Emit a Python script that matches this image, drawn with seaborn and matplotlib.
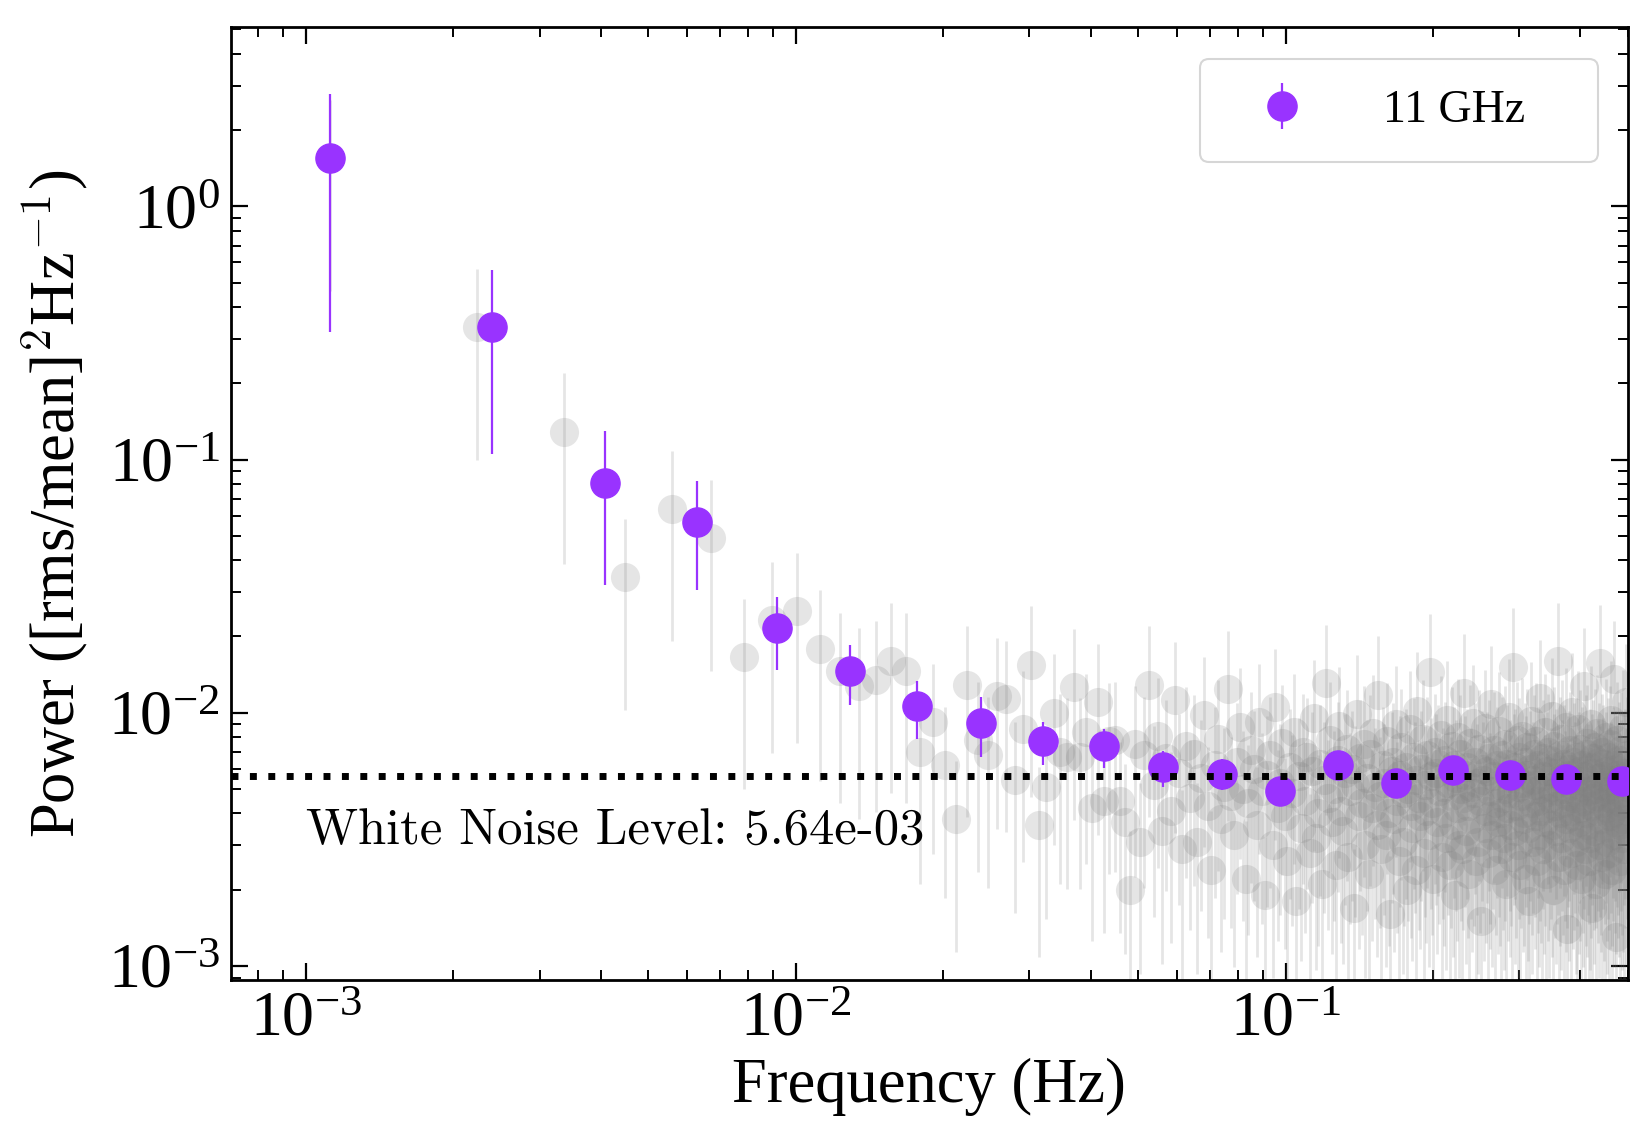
import numpy as np
import pandas as pd
import matplotlib
matplotlib.use('Agg')
import matplotlib.pyplot as plt
import seaborn as sns

sns.set_style('ticks')
plt.rcParams['font.family'] = ['Liberation Serif', 'DejaVu Serif']
plt.rcParams['mathtext.fontset'] = 'cm'
plt.rcParams['xtick.direction'] = 'in'
plt.rcParams['ytick.direction'] = 'in'
plt.rcParams['xtick.top'] = True
plt.rcParams['ytick.right'] = True
for key in ['text.color', 'axes.labelcolor', 'xtick.color', 'ytick.color', 'axes.edgecolor']:
    plt.rcParams[key] = 'black'

# binned power spectrum, 11 GHz
bin_freq = [1.12e-3, 2.40e-3, 4.08e-3, 6.28e-3, 9.14e-3, 1.29e-2, 1.77e-2, 2.39e-2,
            3.20e-2, 4.25e-2, 5.63e-2, 7.43e-2, 9.76e-2, 0.128, 0.168, 0.220,
            0.287, 0.373, 0.487]
bin_power = [1.55, 0.333, 0.081, 0.0564, 0.0217, 0.01466, 0.0106, 0.0091,
             0.00773, 0.00736, 0.00608, 0.00574, 0.00489, 0.00621, 0.00527,
             0.00592, 0.00569, 0.00548, 0.00537]
bin_err = [1.23, 0.228, 0.049, 0.026, 0.007, 0.0039, 0.0027, 0.0024,
           0.0015, 0.0013, 0.0010, 0.0008, 0.0006, 0.0005, 0.0005,
           0.0004, 0.0004, 0.0003, 0.0003]

# unbinned periodogram (grey), power in units of 1e-3, linear grid of step grey_df
grey_df = 1.12e-3
grey_rel_err = 0.7
grey_power_e3 = [
    1550, 333, 129, 34.3, 63.8, 48.9, 16.6, 23.2, 25.2, 17.9,
    14.6, 12.7, 13.5, 16.0, 14.6, 7.0, 9.2, 6.2, 3.8, 12.9,
    7.8, 6.8, 11.6, 11.3, 5.4, 8.6, 15.5, 3.6, 5.1, 10.0,
    7.0, 6.7, 12.6, 6.7, 8.4, 4.2, 11.0, 4.5, 7.7, 7.8,
    4.5, 3.7, 2.0, 7.5, 3.1, 6.8, 12.9,
    5.2, 8.1, 3.4, 6.6, 4.1, 11.2, 5.8, 2.9, 7.4, 4.6, 6.9, 3.1, 5.5, 9.8, 4.3, 2.4, 6.2, 7.9, 3.8, 5.1,
    12.4, 4.7, 3.3, 6.4, 8.8, 5.0, 2.2, 4.4, 7.1, 6.0, 3.6, 9.2, 4.9, 1.9, 5.7, 6.8, 3.0, 10.5, 4.2, 5.3,
    7.6, 3.9, 2.6, 6.1, 4.8, 8.4, 1.8, 5.6, 3.5, 7.0, 4.5, 6.7, 2.8, 5.9, 9.5, 3.2, 4.0, 6.3, 2.1, 5.4,
    13.1, 4.6, 7.8, 3.7, 5.0, 2.5, 6.5, 8.9, 4.1, 3.4, 5.8, 7.2, 2.7, 4.9, 6.0, 1.7, 5.2, 9.9, 3.9, 6.6,
    4.4, 7.5, 3.0, 5.5, 2.3, 6.9, 4.2, 8.3, 5.1, 3.6, 11.8, 4.7, 2.9, 6.2, 5.3, 3.3, 7.7, 4.0, 1.6, 5.9,
    6.4, 3.8, 9.0, 4.5, 2.6, 5.7, 7.3, 3.1, 4.8, 6.1, 2.0, 5.0, 8.6, 4.3, 3.5, 6.7, 5.4, 2.4, 10.2, 4.6,
    3.9, 6.0, 7.9, 2.8, 5.2, 4.1, 6.8, 3.3, 14.5, 5.6, 4.4, 2.2, 7.0, 5.8, 3.7, 6.3, 4.9, 8.2, 2.7, 5.1,
    4.0, 6.5, 3.2, 9.4, 5.3, 2.5, 4.7, 7.4, 3.6, 6.2, 1.9, 5.5, 4.2, 8.0, 3.0, 6.9, 5.0, 2.9, 4.6, 12.0,
    5.7, 3.4, 6.1, 4.3, 2.3, 7.6, 5.1, 3.8, 9.1, 4.8, 6.4, 2.6, 5.3, 3.1, 7.2, 4.5, 1.5, 6.0, 5.4, 3.5,
    8.7, 4.1, 5.9, 2.8, 6.6, 3.9, 4.9, 10.8, 3.3, 5.6, 7.1, 2.4, 4.4, 6.2, 3.7, 5.2, 8.5, 4.0, 2.9, 6.8,
    4.6, 3.2, 7.5, 5.0, 2.1, 6.3, 4.2, 9.6, 3.6, 5.5, 4.8, 2.7, 15.2, 5.8, 3.4, 6.1, 4.3, 7.8, 3.0, 5.1,
    6.7, 2.5, 4.7, 5.3, 8.1, 3.8, 4.0, 6.4, 2.2, 5.7, 7.3, 3.5, 4.9, 1.8, 6.0, 9.3, 4.4, 3.1, 5.4, 6.9,
    3.9, 5.2, 7.7, 2.6, 4.5, 6.2, 3.3, 11.4, 5.0, 4.1, 2.9, 6.6, 5.6, 3.7, 8.4, 4.8, 2.3, 5.9, 7.0, 4.2,
    3.0, 6.5, 4.6, 5.1, 9.7, 3.6, 2.0, 5.8, 7.4, 4.3, 6.1, 3.4, 4.9, 16.0, 5.3, 2.7, 6.8, 4.0, 3.2, 5.5,
    7.9, 4.4, 2.4, 6.3, 5.0, 3.8, 8.8, 4.7, 1.4, 5.7, 6.0, 3.5, 7.1, 4.1, 2.8, 5.2, 10.1, 3.9, 6.4, 4.6,
    5.4, 3.1, 6.7, 2.5, 4.8, 8.6, 3.7, 5.9, 4.2, 7.2, 2.2, 5.1, 6.2, 3.3, 4.5, 12.7, 5.6, 2.9, 6.9, 4.0,
    3.6, 7.6, 5.3, 2.6, 4.9, 6.1, 3.2, 9.0, 4.3, 5.8, 1.7, 6.6, 4.6, 3.4, 7.3, 5.0, 2.1, 4.7, 8.3, 5.5,
    4.1, 6.4, 3.0, 15.7, 5.2, 3.8, 4.4, 7.0, 2.7, 5.6, 6.3, 3.5, 4.9, 2.3, 8.0, 5.9, 4.2, 3.1, 6.7, 5.1,
    2.8, 4.6, 7.5, 3.9, 5.4, 9.4, 4.0, 2.4, 6.2, 5.0, 3.3, 13.6, 4.5, 6.0, 3.7, 1.3, 5.7, 7.8, 4.3,
    5.3, 3.6, 6.5, 4.8, 2.6, 7.1, 5.5, 3.2, 4.4, 8.7, 3.8, 5.8, 2.9, 6.1, 4.7, 11.0, 3.4, 5.1, 6.8, 4.1,
]

white_noise = 5.64e-3
label = '11 GHz'
purple = '#9933ff'

grey = pd.DataFrame({'power': np.array(grey_power_e3) * 1e-3})
grey['freq'] = grey_df * np.arange(1, len(grey) + 1)
grey['err'] = grey['power'] * grey_rel_err

binned = pd.DataFrame({'freq': bin_freq, 'power': bin_power, 'err': bin_err})

fig, ax = plt.subplots(figsize=(16.46, 11.32), dpi=100)
fig.subplots_adjust(left=0.1403, right=0.989, top=0.976, bottom=0.1343)

ax.errorbar(grey['freq'], grey['power'], yerr=grey['err'], fmt='none',
            ecolor='grey', elinewidth=2, alpha=0.2, zorder=1)
sns.scatterplot(data=grey, x='freq', y='power', color='grey', alpha=0.2,
                s=440, linewidth=0, ax=ax, zorder=2, legend=False)
ax.errorbar(binned['freq'], binned['power'], yerr=binned['err'], fmt='o',
            color=purple, ecolor=purple, markersize=21, elinewidth=1.6,
            label=label, zorder=3)
ax.axhline(white_noise, color='k', ls=':', lw=5, zorder=4)
ax.text(1.0e-3, 3.4e-3, f'White Noise Level: {white_noise:.2e}',
        family='cmr10', fontsize=36.5, ha='left', va='center')

ax.set_xscale('log')
ax.set_yscale('log')
ax.set_xlim(7.03e-4, 0.5)
ax.set_ylim(8.8e-4, 5.1)
ax.set_xlabel('Frequency (Hz)', fontsize=45, labelpad=6)
ax.set_ylabel(r'Power ([rms/mean]$^2$Hz$^{-1}$)', fontsize=45, labelpad=12)

ax.tick_params(which='major', length=12, width=1.6, labelsize=46, pad=8)
ax.tick_params(which='minor', length=7, width=1.4)
for sp in ax.spines.values():
    sp.set_linewidth(2)

leg = ax.legend(loc='upper left', bbox_to_anchor=(0.6936, 0.0, 0.2849, 0.9664),
                mode='expand', borderaxespad=0, fontsize=33, borderpad=0.66,
                handlelength=2.28, handletextpad=1.05, framealpha=0.8)
leg.get_frame().set_edgecolor('#cccccc')
leg.get_frame().set_linewidth(1.5)

fig.savefig('out.png', dpi=100)
